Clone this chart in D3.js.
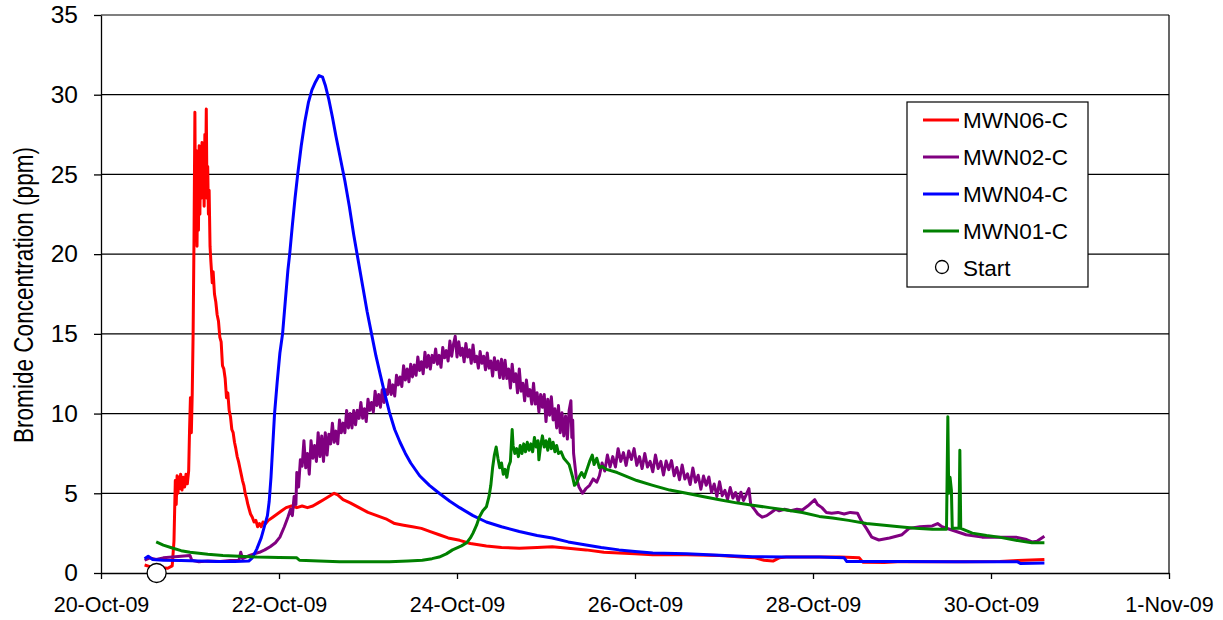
<!DOCTYPE html>
<html><head><meta charset="utf-8">
<script src="https://cdn.jsdelivr.net/npm/d3@7"></script>
<style>
body{margin:0;background:#fff;}
svg{display:block;font-family:"Liberation Sans",Arial,Helvetica,sans-serif;}
</style>
</head><body>
<svg id="chart" width="1223" height="620"></svg>
<script>
// ---------------- DATA (day offsets from 20-Oct-2009 00:00, value in ppm) ----------------
const seriesNames = ["MWN06-C", "MWN02-C", "MWN04-C", "MWN01-C"];
const xTickLabels = ["20-Oct-09", "22-Oct-09", "24-Oct-09", "26-Oct-09", "28-Oct-09", "30-Oct-09", "1-Nov-09"];
const xTickDays = [0, 2, 4, 6, 8, 10, 12];
const yTicks = [0, 5, 10, 15, 20, 25, 30, 35];
const startPoint = [[0.625, 0]];

const mwn06 = [[0.49,0.5],[0.55,0.4],[0.65,0.35],[0.75,0.3],[0.80,0.45],[0.82,2.0],[0.835,5.8],[0.845,4.3],[0.855,6.1],[0.865,5.0],[0.875,6.0],[0.885,5.3],[0.895,6.2],[0.91,5.2],[0.925,6.0],[0.94,5.4],[0.955,6.2],[0.97,5.6],[0.985,6.4],[0.995,9.0],[1.005,11.0],[1.015,8.8],[1.025,11.2],[1.035,15.0],[1.045,21.0],
[1.055,28.9],[1.063,21.0],[1.071,26.5],[1.079,20.5],[1.087,25.8],[1.095,21.5],[1.103,26.8],[1.111,22.5],[1.119,26.0],[1.127,23.5],[1.135,27.0],[1.143,24.0],[1.151,26.2],[1.159,23.0],[1.167,27.5],[1.175,24.5],[1.183,29.1],[1.191,23.5],[1.199,25.5],[1.207,22.5],[1.215,24.0],[1.225,20.5],
[1.235,19.5],[1.25,18.2],[1.26,18.9],[1.275,17.5],[1.29,17.0],[1.305,16.2],[1.32,15.8],[1.335,14.8],[1.35,14.5],[1.365,13.0],[1.38,12.8],[1.395,12.2],[1.41,11.0],[1.425,11.3],[1.44,10.2],[1.455,9.8],[1.47,9.0],[1.485,8.8],[1.50,8.2],[1.515,7.8],[1.53,7.3],[1.545,7.0],[1.56,6.6],[1.575,6.2],[1.59,5.8],[1.605,5.5],[1.62,5.0],[1.635,4.7],[1.65,4.3],[1.665,4.0],[1.68,3.7],[1.70,3.5],[1.72,3.2],[1.74,3.3],[1.76,2.9],[1.78,3.1],[1.80,2.9],[1.82,3.2],[1.85,3.1],
[1.88,3.3],[1.93,3.5],[1.98,3.7],[2.03,3.9],[2.08,4.1],[2.14,4.2],[2.20,4.1],[2.26,4.2],[2.32,4.1],[2.38,4.2],[2.44,4.4],[2.50,4.6],[2.56,4.8],[2.62,5.0],[2.66,4.9],[2.72,4.6],[2.80,4.4],[2.90,4.1],[3.00,3.8],[3.10,3.6],[3.20,3.4],[3.30,3.1],[3.40,3.0],[3.50,2.9],[3.60,2.8],[3.70,2.6],[3.80,2.4],[3.90,2.2],[4.03,2.05],[4.15,1.85],[4.33,1.7],[4.50,1.6],[4.70,1.55],[4.90,1.6],[5.07,1.65],[5.25,1.55],[5.45,1.45],[5.65,1.3],[5.82,1.25],[6.00,1.2],[6.20,1.15],[6.58,1.15],[6.95,1.1],[7.20,1.0],[7.35,0.95],[7.45,0.8],[7.55,0.75],[7.62,0.95],[7.70,1.0],[8.07,1.0],[8.30,1.0],[8.52,0.95],[8.56,0.68],[8.80,0.66],[9.00,0.72],[9.30,0.7],[9.70,0.71],[10.10,0.72],[10.30,0.78],[10.60,0.85]];

const mwn02 = [[0.49,0.8],[0.55,0.95],[0.62,0.85],[0.70,0.95],[0.80,1.0],[0.90,1.05],[1.00,1.1],[1.02,0.8],[1.10,0.7],[1.20,0.75],[1.34,0.72],[1.45,0.78],[1.55,0.8],[1.57,1.3],[1.59,0.9],[1.67,1.1],[1.72,1.2],[1.78,1.3],[1.84,1.45],[1.90,1.65],[1.96,1.9],[2.01,2.25],[2.06,2.9],[2.10,3.5],[2.13,4.0],[2.15,3.6],[2.17,4.8],[2.19,4.3],
[2.20,6.3],[2.22,5.4],[2.24,7.1],[2.26,6.7],[2.28,8.3],[2.30,6.6],[2.32,7.5],[2.34,6.2],[2.36,8.3],[2.38,7.2],[2.40,8.0],[2.42,7.0],[2.44,8.8],[2.46,7.3],[2.48,8.6],[2.50,7.0],[2.52,8.8],[2.54,7.4],[2.56,8.7],[2.58,8.1],[2.60,9.4],
[2.62,8.2],[2.64,8.9],[2.66,8.1],[2.68,9.6],[2.70,8.8],[2.72,9.4],[2.74,8.8],[2.76,10.2],[2.78,9.1],[2.80,10.0],[2.82,9.1],[2.84,10.2],[2.86,9.3],[2.88,10.2],[2.90,9.7],[2.92,10.7],[2.94,9.7],[2.96,10.3],[2.98,9.5],[3.00,10.9],
[3.02,10.2],[3.04,10.7],[3.06,10.1],[3.08,11.4],[3.10,10.5],[3.12,11.2],[3.14,10.4],[3.16,11.5],[3.18,10.7],[3.20,11.5],[3.22,11.2],[3.24,12.1],[3.26,11.2],[3.28,11.8],[3.30,11.1],[3.32,12.4],[3.34,11.8],[3.36,12.3],[3.38,11.7],[3.40,13.0],[3.42,12.1],[3.44,12.8],[3.46,12.0],[3.48,13.1],[3.50,12.3],
[3.52,13.05],[3.54,12.4],[3.56,13.55],[3.58,12.7],[3.60,13.25],[3.62,12.5],[3.64,13.85],[3.66,12.9],[3.68,13.65],[3.70,12.8],[3.72,13.65],[3.74,13.2],[3.76,14.05],[3.78,13.1],[3.80,13.65],[3.82,12.9],[3.84,14.15],[3.86,13.5],[3.88,13.95],[3.90,13.3],[3.92,14.55],[3.94,13.6],[3.96,14.35],[3.98,14.85],
[4.00,13.55],[4.02,14.5],[4.04,13.65],[4.06,14.1],[4.08,13.25],[4.10,14.4],[4.12,13.55],[4.14,14.0],[4.16,13.15],[4.18,14.3],[4.20,13.25],[4.22,13.6],[4.24,12.85],[4.26,13.9],[4.28,13.15],[4.30,13.6],[4.32,12.75],[4.34,13.8],[4.36,12.85],[4.38,13.3],[4.40,12.35],[4.42,13.5],[4.44,12.75],[4.46,13.3],[4.48,12.25],[4.50,13.4],
[4.52,12.2],[4.54,13.35],[4.56,12.2],[4.58,12.8],[4.60,11.6],[4.62,13.1],[4.64,12.0],[4.66,12.5],[4.68,11.3],[4.70,12.8],[4.72,11.4],[4.74,11.9],[4.76,10.8],[4.78,12.1],[4.80,11.1],[4.82,11.5],[4.84,10.6],[4.86,11.9],[4.88,10.6],[4.90,11.3],[4.92,10.1],[4.94,11.2],[4.96,10.4],[4.98,11.2],[5.00,9.5],[5.02,10.9],[5.04,9.9],[5.06,11.05],[5.08,9.6],[5.10,10.3],[5.12,9.1],[5.14,10.5],[5.16,8.8],[5.18,10.05],[5.20,8.6],[5.22,9.85],[5.24,8.4],[5.26,10.2],[5.28,10.8],[5.29,8.5],[5.30,9.6],
[5.31,7.5],[5.34,6.0],[5.37,5.4],[5.41,5.0],[5.45,5.3],[5.49,5.5],[5.53,5.9],[5.57,5.7],
[5.60,6.1],[5.63,6.9],[5.66,6.4],[5.69,7.4],[5.72,6.65],[5.75,7.3],[5.78,6.65],[5.81,7.8],[5.84,7.0],[5.87,7.55],[5.90,6.75],[5.93,7.65],[5.96,7.12],[5.99,7.8],[6.02,6.75],[6.05,7.3],[6.08,6.55],[6.11,7.5],[6.14,6.65],[6.17,7.0],[6.20,6.35],[6.23,7.4],[6.26,6.55],[6.29,7.0],[6.32,6.15],[6.35,7.02],[6.38,6.48],[6.41,7.05],[6.44,6.1],[6.47,6.62],[6.50,5.85],[6.53,6.78],[6.56,5.9],[6.59,6.22],[6.62,5.55],[6.65,6.58],[6.68,5.7],[6.71,6.13],[6.74,5.25],[6.77,6.08],[6.80,5.5],[6.83,6.02],[6.86,5.05],[6.89,5.58],[6.92,4.8],[6.95,5.72],[6.98,4.85],[7.01,5.18],[7.04,4.62],[7.07,5.36],[7.10,4.7],[7.13,5.05],[7.16,4.5],[7.19,5.07],[7.22,4.55],[7.25,4.92],[7.28,5.3],
[7.30,4.3],[7.34,4.0],[7.38,3.7],[7.43,3.5],[7.48,3.6],[7.53,3.8],[7.58,4.0],[7.62,3.9],[7.68,4.0],[7.75,3.9],[7.82,4.0],[7.88,3.95],[7.94,4.2],[7.98,4.4],[8.02,4.6],[8.05,4.3],[8.10,4.1],[8.15,3.8],[8.21,3.75],[8.28,3.8],[8.35,3.7],[8.42,3.8],[8.50,3.75],[8.54,3.3],[8.60,2.8],[8.66,2.25],[8.74,2.07],[8.86,2.2],[9.00,2.4],[9.08,2.8],[9.20,2.9],[9.34,2.95],[9.40,3.1],[9.45,2.9],[9.56,2.7],[9.72,2.4],[9.90,2.25],[10.10,2.25],[10.28,2.25],[10.40,2.1],[10.46,1.95],[10.52,2.0],[10.60,2.3]];

const mwn04 = [[0.49,0.9],[0.53,1.05],[0.58,0.85],[0.70,0.8],[0.90,0.78],[1.10,0.75],[1.30,0.72],[1.50,0.72],[1.66,0.75],[1.70,0.95],[1.75,1.5],[1.80,2.2],[1.84,3.0],[1.87,3.6],[1.89,4.5],[1.91,6.0],[1.93,8.0],[1.95,10.0],[1.98,12.0],[2.01,13.8],[2.04,15.0],[2.07,17.0],[2.10,19.0],[2.12,20.0],[2.15,21.8],[2.18,23.5],[2.21,25.0],[2.25,26.8],[2.29,28.3],[2.33,29.5],[2.37,30.3],[2.41,30.8],[2.45,31.2],[2.49,31.1],[2.52,30.6],[2.56,29.7],[2.60,28.6],[2.64,27.4],[2.69,26.0],[2.74,24.6],[2.79,23.0],[2.84,21.2],[2.89,19.6],[2.94,18.0],[2.99,16.4],[3.04,15.0],[3.09,13.6],[3.14,12.4],[3.19,11.2],[3.24,10.1],[3.30,9.0],[3.36,8.2],[3.42,7.5],[3.48,6.9],[3.58,6.1],[3.69,5.5],[3.80,5.0],[3.92,4.5],[4.03,4.1],[4.18,3.6],[4.33,3.2],[4.50,2.9],[4.70,2.6],[4.90,2.35],[5.07,2.2],[5.25,1.95],[5.45,1.75],[5.62,1.6],[5.82,1.45],[6.00,1.35],[6.20,1.25],[6.58,1.2],[6.95,1.12],[7.32,1.02],[7.70,1.0],[8.07,1.0],[8.35,0.95],[8.38,0.72],[9.00,0.72],[9.60,0.7],[10.30,0.7],[10.33,0.6],[10.60,0.62]];

const mwn01 = [[0.62,1.95],[0.70,1.75],[0.81,1.55],[0.90,1.4],[1.00,1.3],[1.20,1.18],[1.37,1.1],[1.55,1.05],[1.75,1.0],[2.00,0.98],[2.20,0.95],[2.23,0.8],[2.45,0.75],[2.68,0.7],[3.00,0.7],[3.24,0.7],[3.45,0.75],[3.61,0.8],[3.72,0.9],[3.80,1.0],[3.88,1.2],[3.95,1.45],[4.05,1.7],[4.11,1.9],[4.15,2.2],[4.18,2.5],[4.22,3.0],[4.25,3.5],[4.29,3.9],[4.33,4.15],[4.36,4.8],[4.38,5.5],[4.40,6.6],[4.42,7.4],[4.44,7.9],[4.46,7.2],[4.48,6.6],[4.50,6.9],[4.52,6.2],[4.54,6.5],[4.56,6.0],[4.58,6.7],[4.60,7.0],[4.61,8.0],[4.62,9.0],[4.63,8.0],[4.65,7.5],[4.67,7.8],[4.69,7.3],[4.71,8.0],[4.73,7.5],[4.75,8.1],[4.77,7.6],[4.79,8.2],[4.81,7.7],[4.83,8.1],[4.85,7.6],[4.87,8.5],[4.89,7.9],[4.91,8.3],[4.92,7.1],[4.94,8.0],[4.96,8.6],[4.98,7.9],[5.00,8.3],[5.02,7.7],[5.04,8.4],[5.06,7.8],[5.08,8.2],[5.10,7.6],[5.12,8.0],[5.14,7.5],[5.17,7.6],[5.20,7.2],[5.23,7.0],[5.26,6.8],[5.28,6.4],[5.30,6.0],[5.32,5.5],[5.34,5.6],[5.37,6.0],[5.40,6.3],[5.43,6.0],[5.46,6.5],[5.49,7.0],[5.52,7.4],[5.54,6.8],[5.57,7.2],[5.60,6.6],[5.63,6.7],[5.68,6.5],[5.80,6.3],[6.02,5.8],[6.20,5.5],[6.39,5.2],[6.58,5.0],[6.76,4.8],[6.95,4.6],[7.14,4.4],[7.32,4.25],[7.51,4.1],[7.70,3.95],[7.88,3.8],[8.07,3.55],[8.22,3.45],[8.40,3.3],[8.60,3.1],[8.80,3.0],[8.97,2.9],[9.15,2.8],[9.34,2.75],[9.50,2.75],[9.515,9.8],[9.525,5.0],[9.54,6.0],[9.555,5.2],[9.565,2.8],[9.64,2.8],[9.65,7.7],[9.66,2.8],[9.79,2.5],[9.95,2.35],[10.09,2.25],[10.28,2.05],[10.46,1.9],[10.60,1.9]];

// ---------------- CHART ----------------
const W = 1223, H = 620;
const margin = {left: 101, right: 54, top: 15, bottom: 47};
const svg = d3.select("#chart");
const base = new Date(2009, 9, 20);
const toDate = d => new Date(base.getTime() + d * 864e5);

const x = d3.scaleTime().domain([toDate(0), toDate(12)]).range([margin.left, W - margin.right]);
const y = d3.scaleLinear().domain([0, 35]).range([H - margin.bottom, margin.top]);

// gridlines
svg.append("g").selectAll("line").data(yTicks.filter(v => v > 0)).join("line")
  .attr("x1", margin.left).attr("x2", W - margin.right)
  .attr("y1", d => y(d)).attr("y2", d => y(d))
  .attr("stroke", "#000").attr("stroke-width", 1.2);
// right border of plot area
svg.append("line").attr("x1", W - margin.right).attr("x2", W - margin.right)
  .attr("y1", margin.top).attr("y2", H - margin.bottom).attr("stroke", "#000").attr("stroke-width", 1.2);

// axes
const yAxis = d3.axisLeft(y).tickValues(yTicks).tickSize(7).tickSizeOuter(0).tickPadding(16);
const gy = svg.append("g").attr("transform", `translate(${margin.left},0)`).call(yAxis);
gy.selectAll("text").attr("font-size", 24.5).attr("fill", "#000").attr("font-family", "Liberation Sans, Arial, sans-serif");

const xAxis = d3.axisBottom(x).tickValues(xTickDays.map(toDate)).tickSize(6).tickSizeOuter(0).tickPadding(18)
  .tickFormat((d, i) => xTickLabels[i]);
const gx = svg.append("g").attr("transform", `translate(0,${H - margin.bottom})`).call(xAxis);
gx.selectAll("text").attr("font-size", 21.5).attr("fill", "#000").attr("font-family", "Liberation Sans, Arial, sans-serif");
[gx, gy].forEach(g => { g.selectAll("path,line").attr("stroke", "#000").attr("stroke-width", 1.3); });

// y label
svg.append("text")
  .attr("transform", `translate(33,${295}) rotate(-90)`)
  .attr("text-anchor", "middle")
  .attr("font-size", 27)
  .attr("textLength", 296).attr("lengthAdjust", "spacingAndGlyphs")
  .text("Bromide Concentration (ppm)");

// series
const colors = {"MWN06-C": "#ff0000", "MWN02-C": "#800080", "MWN04-C": "#0000ff", "MWN01-C": "#008000"};
const seriesData = [mwn06, mwn02, mwn04, mwn01];
const line = d3.line().x(d => x(toDate(d[0]))).y(d => y(d[1]));
svg.append("g").selectAll("path").data(seriesData).join("path")
  .attr("d", line)
  .attr("fill", "none")
  .attr("stroke", (d, i) => colors[seriesNames[i]])
  .attr("stroke-width", 3)
  .attr("stroke-linejoin", "round");

// start marker
svg.append("g").selectAll("circle").data(startPoint).join("circle")
  .attr("cx", d => x(toDate(d[0]))).attr("cy", d => y(d[1])).attr("r", 9.5)
  .attr("fill", "#fff").attr("stroke", "#000").attr("stroke-width", 1.3);

// legend
const lg = svg.append("g").attr("transform", "translate(907,102)");
lg.append("rect").attr("width", 181).attr("height", 185).attr("fill", "#fff").attr("stroke", "#000").attr("stroke-width", 1.2);
const items = seriesNames.concat(["Start"]);
items.forEach((name, i) => {
  const cy = 18 + i * 37;
  if (name === "Start") {
    lg.append("circle").attr("cx", 35).attr("cy", cy - 1).attr("r", 6.5).attr("fill", "#fff").attr("stroke", "#000").attr("stroke-width", 1.3);
  } else {
    lg.append("line").attr("x1", 16).attr("x2", 52).attr("y1", cy).attr("y2", cy)
      .attr("stroke", colors[name]).attr("stroke-width", 3);
  }
  lg.append("text").attr("x", 56).attr("y", cy + 8).attr("font-size", 22.5).attr("fill", "#000").text(name);
});
</script>
</body></html>
